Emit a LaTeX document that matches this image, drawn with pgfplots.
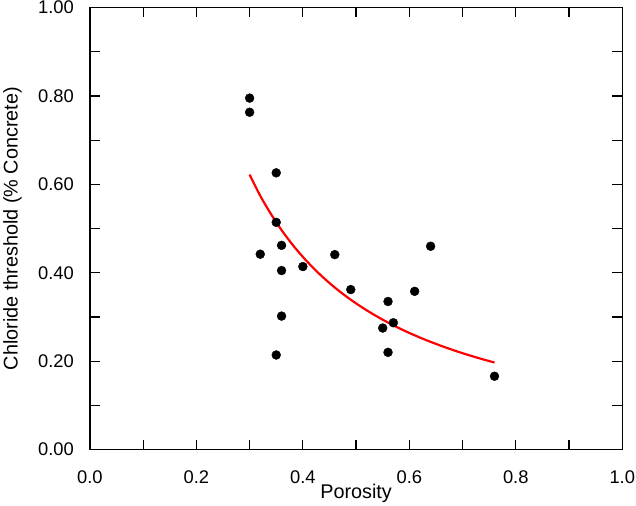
\documentclass[border=0pt]{standalone}
\usepackage{pgfplots}
\pgfplotsset{compat=1.18}
\usepackage{fontspec}
\setmainfont{Liberation Sans}
\begin{document}
\begin{tikzpicture}
\begin{axis}[
 scale only axis, width=537pt, height=446pt,
 xmin=0,xmax=1,ymin=0,ymax=1,
 xtick={0,0.2,0.4,0.6,0.8,1}, ytick={0,0.2,0.4,0.6,0.8,1},
 minor tick num=1,
 tick align=inside, major tick length=10pt, minor tick length=10pt,
 xticklabel style={/pgf/number format/.cd,fixed,fixed zerofill,precision=1,/tikz/.cd,yshift=-20pt},
 yticklabel style={/pgf/number format/.cd,fixed,fixed zerofill,precision=2,/tikz/.cd,xshift=-15pt},
 /pgf/number format/assume math mode=true,
 tick label style={font=\fontsize{18.5}{21}\selectfont, inner sep=1pt},
 label style={font=\fontsize{20}{23}\selectfont},
 xlabel={Porosity}, ylabel={Chloride threshold (\% Concrete)},
 xlabel style={yshift=4pt},
 ylabel style={yshift=12pt},
 axis line style={line width=1.2pt},
 every tick/.style={line width=1.2pt, black},
]
\addplot[only marks, mark=*, mark size=4.5pt, black] coordinates {
(0.30,0.795)(0.30,0.763)(0.35,0.626)(0.35,0.514)(0.36,0.462)(0.32,0.442)
(0.36,0.405)(0.40,0.414)(0.36,0.302)(0.35,0.214)(0.46,0.441)(0.49,0.362)
(0.56,0.335)(0.61,0.358)(0.57,0.287)(0.55,0.275)(0.56,0.220)(0.76,0.166)(0.64,0.460)
};
\addplot[red, line width=2.2pt, smooth, no marks] coordinates {
(0.30,0.622)(0.32,0.574)(0.34,0.533)(0.36,0.4965)(0.38,0.4644)(0.40,0.4359)
(0.42,0.4103)(0.44,0.3874)(0.46,0.3666)(0.48,0.3478)(0.50,0.3307)(0.52,0.3150)
(0.54,0.3007)(0.56,0.2874)(0.58,0.2752)(0.60,0.2639)(0.62,0.2534)(0.64,0.2437)
(0.66,0.2346)(0.68,0.2261)(0.70,0.2181)(0.72,0.2106)(0.74,0.2036)(0.76,0.1970)
};
\end{axis}
\end{tikzpicture}
\end{document}
